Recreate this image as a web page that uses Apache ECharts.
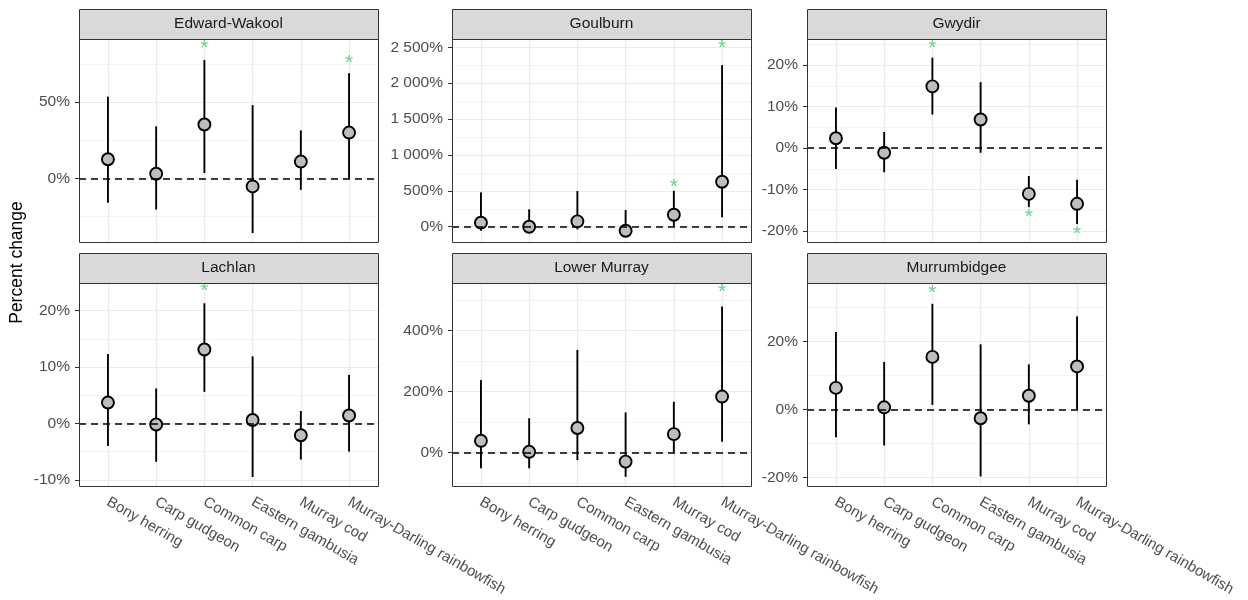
<!DOCTYPE html>
<html><head><meta charset="utf-8">
<script src="https://cdn.jsdelivr.net/npm/echarts@6/dist/echarts.min.js"></script>
<style>html,body{margin:0;padding:0;background:#fff}#chart{width:1248px;height:600px}</style>
</head><body><div id="chart"></div>
<script>
// ---------- data ----------
const species = ["Bony herring","Carp gudgeon","Common carp","Eastern gambusia","Murray cod","Murray-Darling rainbowfish"];
const panelNames = ["Edward-Wakool","Goulburn","Gwydir","Lachlan","Lower Murray","Murrumbidgee"];

const edwardWakoolEstimate = [12.5, 3, 35.3, -5.3, 11, 30];
const edwardWakoolLower    = [-16, -20.4, 3.5, -35.8, -7.5, 0];
const edwardWakoolUpper    = [53.5, 34, 77.6, 48, 31.4, 68.9];
const edwardWakoolStar     = [null, null, 88.6, null, null, 78.7];
const edwardWakoolTicks    = [0, 50];
const edwardWakoolMinor    = [-25, 25, 75];
const edwardWakoolLimits   = [-41.7, 91.3];

const goulburnEstimate = [56, 0, 75, -56, 167, 627];
const goulburnLower    = [-56, -20, -37, -85, 0, 131];
const goulburnUpper    = [479, 242, 497, 232, 501, 2252];
const goulburnStar     = [null, null, null, null, 622, 2554];
const goulburnTicks    = [0, 500, 1000, 1500, 2000, 2500];
const goulburnMinor    = [250, 750, 1250, 1750, 2250];
const goulburnLimits   = [-213, 2616];

const gwydirEstimate = [2.4, -1.1, 14.9, 6.9, -11, -13.4];
const gwydirLower    = [-5, -5.8, 8.1, -1.1, -14.2, -18.3];
const gwydirUpper    = [9.8, 3.9, 21.8, 15.9, -6.7, -7.6];
const gwydirStar     = [null, null, 25.3, null, -15.5, -19.6];
const gwydirTicks    = [-20, -10, 0, 10, 20];
const gwydirMinor    = [-15, -5, 5, 15, 25];
const gwydirLimits   = [-22.6, 26.3];

const lachlanEstimate = [3.7, -0.2, 13.1, 0.6, -2.1, 1.4];
const lachlanLower    = [-4, -6.8, 5.6, -9.5, -6.4, -5];
const lachlanUpper    = [12.3, 6.2, 21.3, 11.9, 2.2, 8.6];
const lachlanStar     = [null, null, 24.3, null, null, null];
const lachlanTicks    = [-10, 0, 10, 20];
const lachlanMinor    = [-5, 5, 15];
const lachlanLimits   = [-11.1, 24.9];

const lowerMurrayEstimate = [39, 3, 81, -29, 61, 184];
const lowerMurrayLower    = [-51, -51, -24, -79, 0, 36];
const lowerMurrayUpper    = [238, 113, 337, 132, 167, 479];
const lowerMurrayStar     = [null, null, null, null, null, 541];
const lowerMurrayTicks    = [0, 200, 400];
const lowerMurrayMinor    = [-100, 100, 300, 500];
const lowerMurrayLimits   = [-109, 556];

const murrumbidgeeEstimate = [6.3, 0.6, 15.4, -2.6, 4, 12.6];
const murrumbidgeeLower    = [-8.2, -10.6, 1.3, -19.7, -4.4, 0];
const murrumbidgeeUpper    = [22.7, 13.9, 31, 19.1, 13.2, 27.3];
const murrumbidgeeStar     = [null, null, 35.6, null, null, null];
const murrumbidgeeTicks    = [-20, 0, 20];
const murrumbidgeeMinor    = [-10, 10, 30];
const murrumbidgeeLimits   = [-22.5, 37.1];

const panels = [
  {est: edwardWakoolEstimate, lo: edwardWakoolLower, hi: edwardWakoolUpper, star: edwardWakoolStar, ticks: edwardWakoolTicks, minor: edwardWakoolMinor, lim: edwardWakoolLimits},
  {est: goulburnEstimate, lo: goulburnLower, hi: goulburnUpper, star: goulburnStar, ticks: goulburnTicks, minor: goulburnMinor, lim: goulburnLimits},
  {est: gwydirEstimate, lo: gwydirLower, hi: gwydirUpper, star: gwydirStar, ticks: gwydirTicks, minor: gwydirMinor, lim: gwydirLimits},
  {est: lachlanEstimate, lo: lachlanLower, hi: lachlanUpper, star: lachlanStar, ticks: lachlanTicks, minor: lachlanMinor, lim: lachlanLimits},
  {est: lowerMurrayEstimate, lo: lowerMurrayLower, hi: lowerMurrayUpper, star: lowerMurrayStar, ticks: lowerMurrayTicks, minor: lowerMurrayMinor, lim: lowerMurrayLimits},
  {est: murrumbidgeeEstimate, lo: murrumbidgeeLower, hi: murrumbidgeeUpper, star: murrumbidgeeStar, ticks: murrumbidgeeTicks, minor: murrumbidgeeMinor, lim: murrumbidgeeLimits}
];

// ---------- layout ----------
const FONT = "'Liberation Sans', Arial, sans-serif";
const colLeft = [79, 452, 807];
const rowTop = [39, 283];
const PW = 299, PH = 203, STRIP = 30;
const catPos = species.map((s, i) => i + 1);

function fmtPct(v) {
  const a = Math.abs(v);
  let s = String(a);
  if (a >= 1000) s = s.replace(/\B(?=(\d{3})+(?!\d))/g, ' ');
  return (v < 0 ? '-' : '') + s + '%';
}

const grids = [], xAxes = [], yAxes = [], series = [], graphics = [];

panels.forEach((p, i) => {
  const col = i % 3, row = Math.floor(i / 3);
  const left = colLeft[col], top = rowTop[row];
  grids.push({left: left, top: top, width: PW, height: PH, show: true, backgroundColor: '#fff', borderWidth: 0, containLabel: false});
  xAxes.push({
    gridIndex: i, type: 'value', min: 0.4, max: 6.6,
    axisLine: {show: false}, splitLine: {show: false},
    axisTick: {show: row === 1, customValues: catPos, length: 4, lineStyle: {color: '#333', width: 1}},
    axisLabel: {show: row === 1, customValues: catPos, rotate: -30, margin: 15,
      formatter: v => species[Math.round(v) - 1], color: '#4D4D4D', fontSize: 15, fontFamily: FONT}
  });
  yAxes.push({
    gridIndex: i, type: 'value', min: p.lim[0], max: p.lim[1],
    axisLine: {show: false}, splitLine: {show: false},
    axisTick: {show: true, customValues: p.ticks, length: 4, lineStyle: {color: '#333', width: 1}},
    axisLabel: {customValues: p.ticks, formatter: fmtPct, color: '#4D4D4D', fontSize: 15.5, fontFamily: FONT, margin: 9}
  });

  // grid lines
  const gl = [];
  p.minor.forEach(v => gl.push({yAxis: v, lineStyle: {color: '#EDEDED', width: 0.6, type: 'solid'}}));
  p.ticks.forEach(v => gl.push({yAxis: v, lineStyle: {color: '#EBEBEB', width: 1.2, type: 'solid'}}));
  catPos.forEach(v => gl.push({xAxis: v, lineStyle: {color: '#EBEBEB', width: 1.2, type: 'solid'}}));
  series.push({
    type: 'line', xAxisIndex: i, yAxisIndex: i, data: [], silent: true, z: 1,
    markLine: {silent: true, symbol: 'none', z: 1, animation: false, label: {show: false}, emphasis: {disabled: true}, data: gl}
  });

  // error bars
  series.push({
    type: 'custom', xAxisIndex: i, yAxisIndex: i, z: 3, silent: true,
    data: catPos.map((x, j) => [x, p.lo[j], p.hi[j]]),
    renderItem: (params, api) => {
      const a = api.coord([api.value(0), api.value(1)]);
      const b = api.coord([api.value(0), api.value(2)]);
      return {type: 'line', shape: {x1: a[0], y1: a[1], x2: b[0], y2: b[1]}, style: {stroke: '#000', lineWidth: 1.9}};
    }
  });

  // points
  series.push({
    type: 'scatter', xAxisIndex: i, yAxisIndex: i, z: 4, silent: true,
    symbol: 'circle', symbolSize: 12,
    itemStyle: {color: '#BEBEBE', borderColor: '#000', borderWidth: 1.9, opacity: 1},
    data: catPos.map((x, j) => [x, p.est[j]]),
    markLine: {silent: true, symbol: 'none', z: 10, animation: false, label: {show: false},
      data: [{yAxis: 0, lineStyle: {color: '#000', width: 1.5, type: [7, 5]}}]}
  });

  // significance stars
  const st = [];
  catPos.forEach((x, j) => { if (p.star[j] !== null) st.push([x, p.star[j]]); });
  series.push({
    type: 'custom', xAxisIndex: i, yAxisIndex: i, z: 5, silent: true, clip: false,
    data: st,
    renderItem: (params, api) => {
      const c = api.coord([api.value(0), api.value(1)]);
      return {type: 'text', x: c[0], y: c[1] + 5,
        style: {text: '*', align: 'center', verticalAlign: 'middle', fontSize: 21, fontFamily: FONT, fill: '#6CD28F'}};
    }
  });

  // strip and frame
  graphics.push({type: 'rect', z: 100, shape: {x: left + 0.5, y: top - STRIP + 0.5, width: PW, height: STRIP},
    style: {fill: '#D9D9D9', stroke: '#333', lineWidth: 1}});
  graphics.push({type: 'text', z: 101, x: left + PW / 2, y: top - STRIP / 2,
    style: {text: panelNames[i], align: 'center', verticalAlign: 'middle', fontSize: 15.5, fontFamily: FONT, fill: '#1A1A1A'}});
  graphics.push({type: 'rect', z: 100, shape: {x: left + 0.5, y: top + 0.5, width: PW, height: PH},
    style: {fill: 'none', stroke: '#333', lineWidth: 1}});
});

graphics.push({type: 'text', z: 101, x: 17, y: (rowTop[0] + rowTop[1] + PH) / 2, rotation: Math.PI / 2,
  style: {text: 'Percent change', align: 'center', verticalAlign: 'middle', fontSize: 17.5, fontFamily: FONT, fill: '#000'}});

const chart = echarts.init(document.getElementById('chart'), null, {renderer: 'canvas'});
chart.setOption({
  animation: false,
  backgroundColor: '#fff',
  textStyle: {fontFamily: FONT},
  grid: grids, xAxis: xAxes, yAxis: yAxes, series: series, graphic: graphics
});
</script></body></html>
